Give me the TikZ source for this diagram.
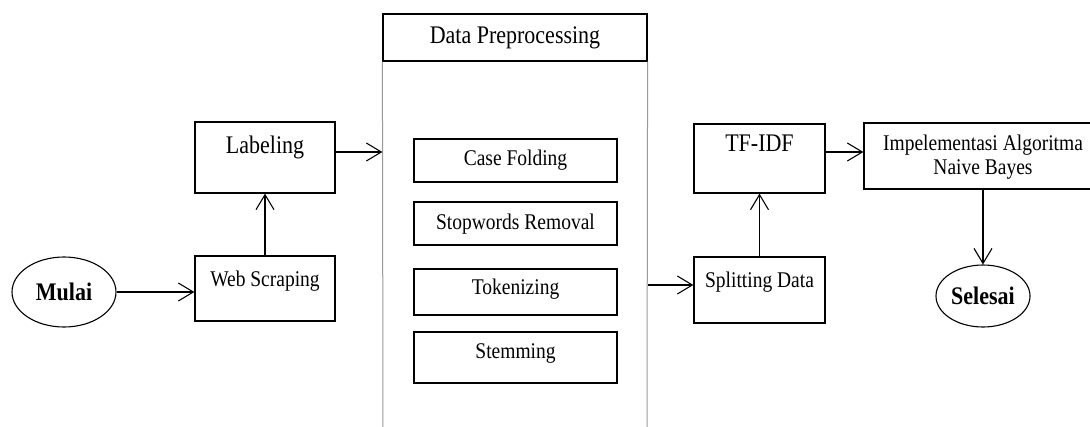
\documentclass[tikz,border=0pt]{standalone}
\usepackage{fontspec}
\setmainfont{Liberation Serif}
\usetikzlibrary{arrows.meta,shapes.geometric}
\newcommand\vstretch[1]{\scalebox{1}[1.15]{#1}}
\tikzset{
  box/.style={draw=black, line width=1.2pt, rectangle, inner sep=0pt},
  oval/.style={draw=black, line width=1.1pt, ellipse, inner sep=0pt, font=\fontsize{22}{24}\selectfont\bfseries},
  txt/.style={inner sep=0pt, align=center},
  big/.style={font=\fontsize{22}{24}\selectfont},
  small/.style={font=\fontsize{19.5}{24}\selectfont},
  arr/.style={line width=1.2pt, -{Straight Barb[length=15pt,width=18pt,line width=1.1pt]}},
  side/.style={draw=black!40, line width=1pt}
}
\begin{document}
\begin{tikzpicture}[x=1pt,y=-1pt]
\useasboundingbox (0,0) rectangle (1090,426);
\clip (0,0) rectangle (1090,426);
% start
\node[oval, minimum width=104pt, minimum height=70pt] (mulai) at (64,292) {\vstretch{Mulai}};
% web scraping
\node[box, minimum width=140pt, minimum height=65pt] (web) at (265,288.5) {};
\node[txt, small] (webt) at (265,281) {\vstretch{Web Scraping}};
% labeling
\node[box, minimum width=140pt, minimum height=71pt] (lab) at (265,157.5) {};
\node[txt, big] (labt) at (265,147) {\vstretch{Labeling}};
% data preprocessing container
\node[box, minimum width=264pt, minimum height=47pt] (hdr) at (515,37.5) {};
\node[txt, big] (hdrt) at (515,37.5) {\vstretch{Data Preprocessing}};
\coordinate (bl) at (383,432);
\coordinate (br) at (647,432);
\draw[side] (hdr.south west) -- (bl);
\draw[side] (hdr.south east) -- (br);
% inner steps
\node[box, minimum width=203pt, minimum height=43pt] (cf) at (515.5,160.5) {};
\node[txt, small] (cft) at (515.5,160) {\vstretch{Case Folding}};
\node[box, minimum width=203pt, minimum height=43pt] (sw) at (515.5,223.5) {};
\node[txt, small] (swt) at (515.5,224) {\vstretch{Stopwords Removal}};
\node[box, minimum width=203pt, minimum height=46pt] (tok) at (515.5,292) {};
\node[txt, small] (tokt) at (515.5,289) {\vstretch{Tokenizing}};
\node[box, minimum width=203pt, minimum height=51pt] (stem) at (515.5,357.5) {};
\node[txt, small] (stemt) at (515.5,353) {\vstretch{Stemming}};
% splitting & tf-idf
\node[box, minimum width=131pt, minimum height=66pt] (split) at (759.5,290) {};
\node[txt, small] (splitt) at (759.5,282) {\vstretch{Splitting Data}};
\node[box, minimum width=131pt, minimum height=69pt] (tf) at (759.5,158.5) {};
\node[txt, big] (tft) at (759.5,143) {\vstretch{TF-IDF}};
% implementation
\node[box, minimum width=240pt, minimum height=66pt] (impl) at (984,156) {};
\node[txt, small] (implt) at (983,157) {\vstretch{\begin{tabular}{@{}c@{}}Impelementasi Algoritma\\[-3pt]Naive Bayes\end{tabular}}};
% end
\node[oval, minimum width=94pt, minimum height=62pt] (selesai) at (983,296) {\vstretch{Selesai}};
% connectors
\draw[arr] (mulai.east) -- (web.west |- mulai.east);
\draw[arr] (web.north) -- (lab.south);
\draw[arr] (lab.east |- 0,152) -- (hdr.west |- 0,152);
\draw[arr] (hdr.east |- 0,285) -- (split.west |- 0,285);
\draw[arr] (split.north) -- (tf.north |- tf.south);
\draw[arr] (tf.east |- 0,152) -- (impl.west |- 0,152);
\draw[arr] (selesai.north |- impl.south) -- (selesai.north);
\end{tikzpicture}
\end{document}
